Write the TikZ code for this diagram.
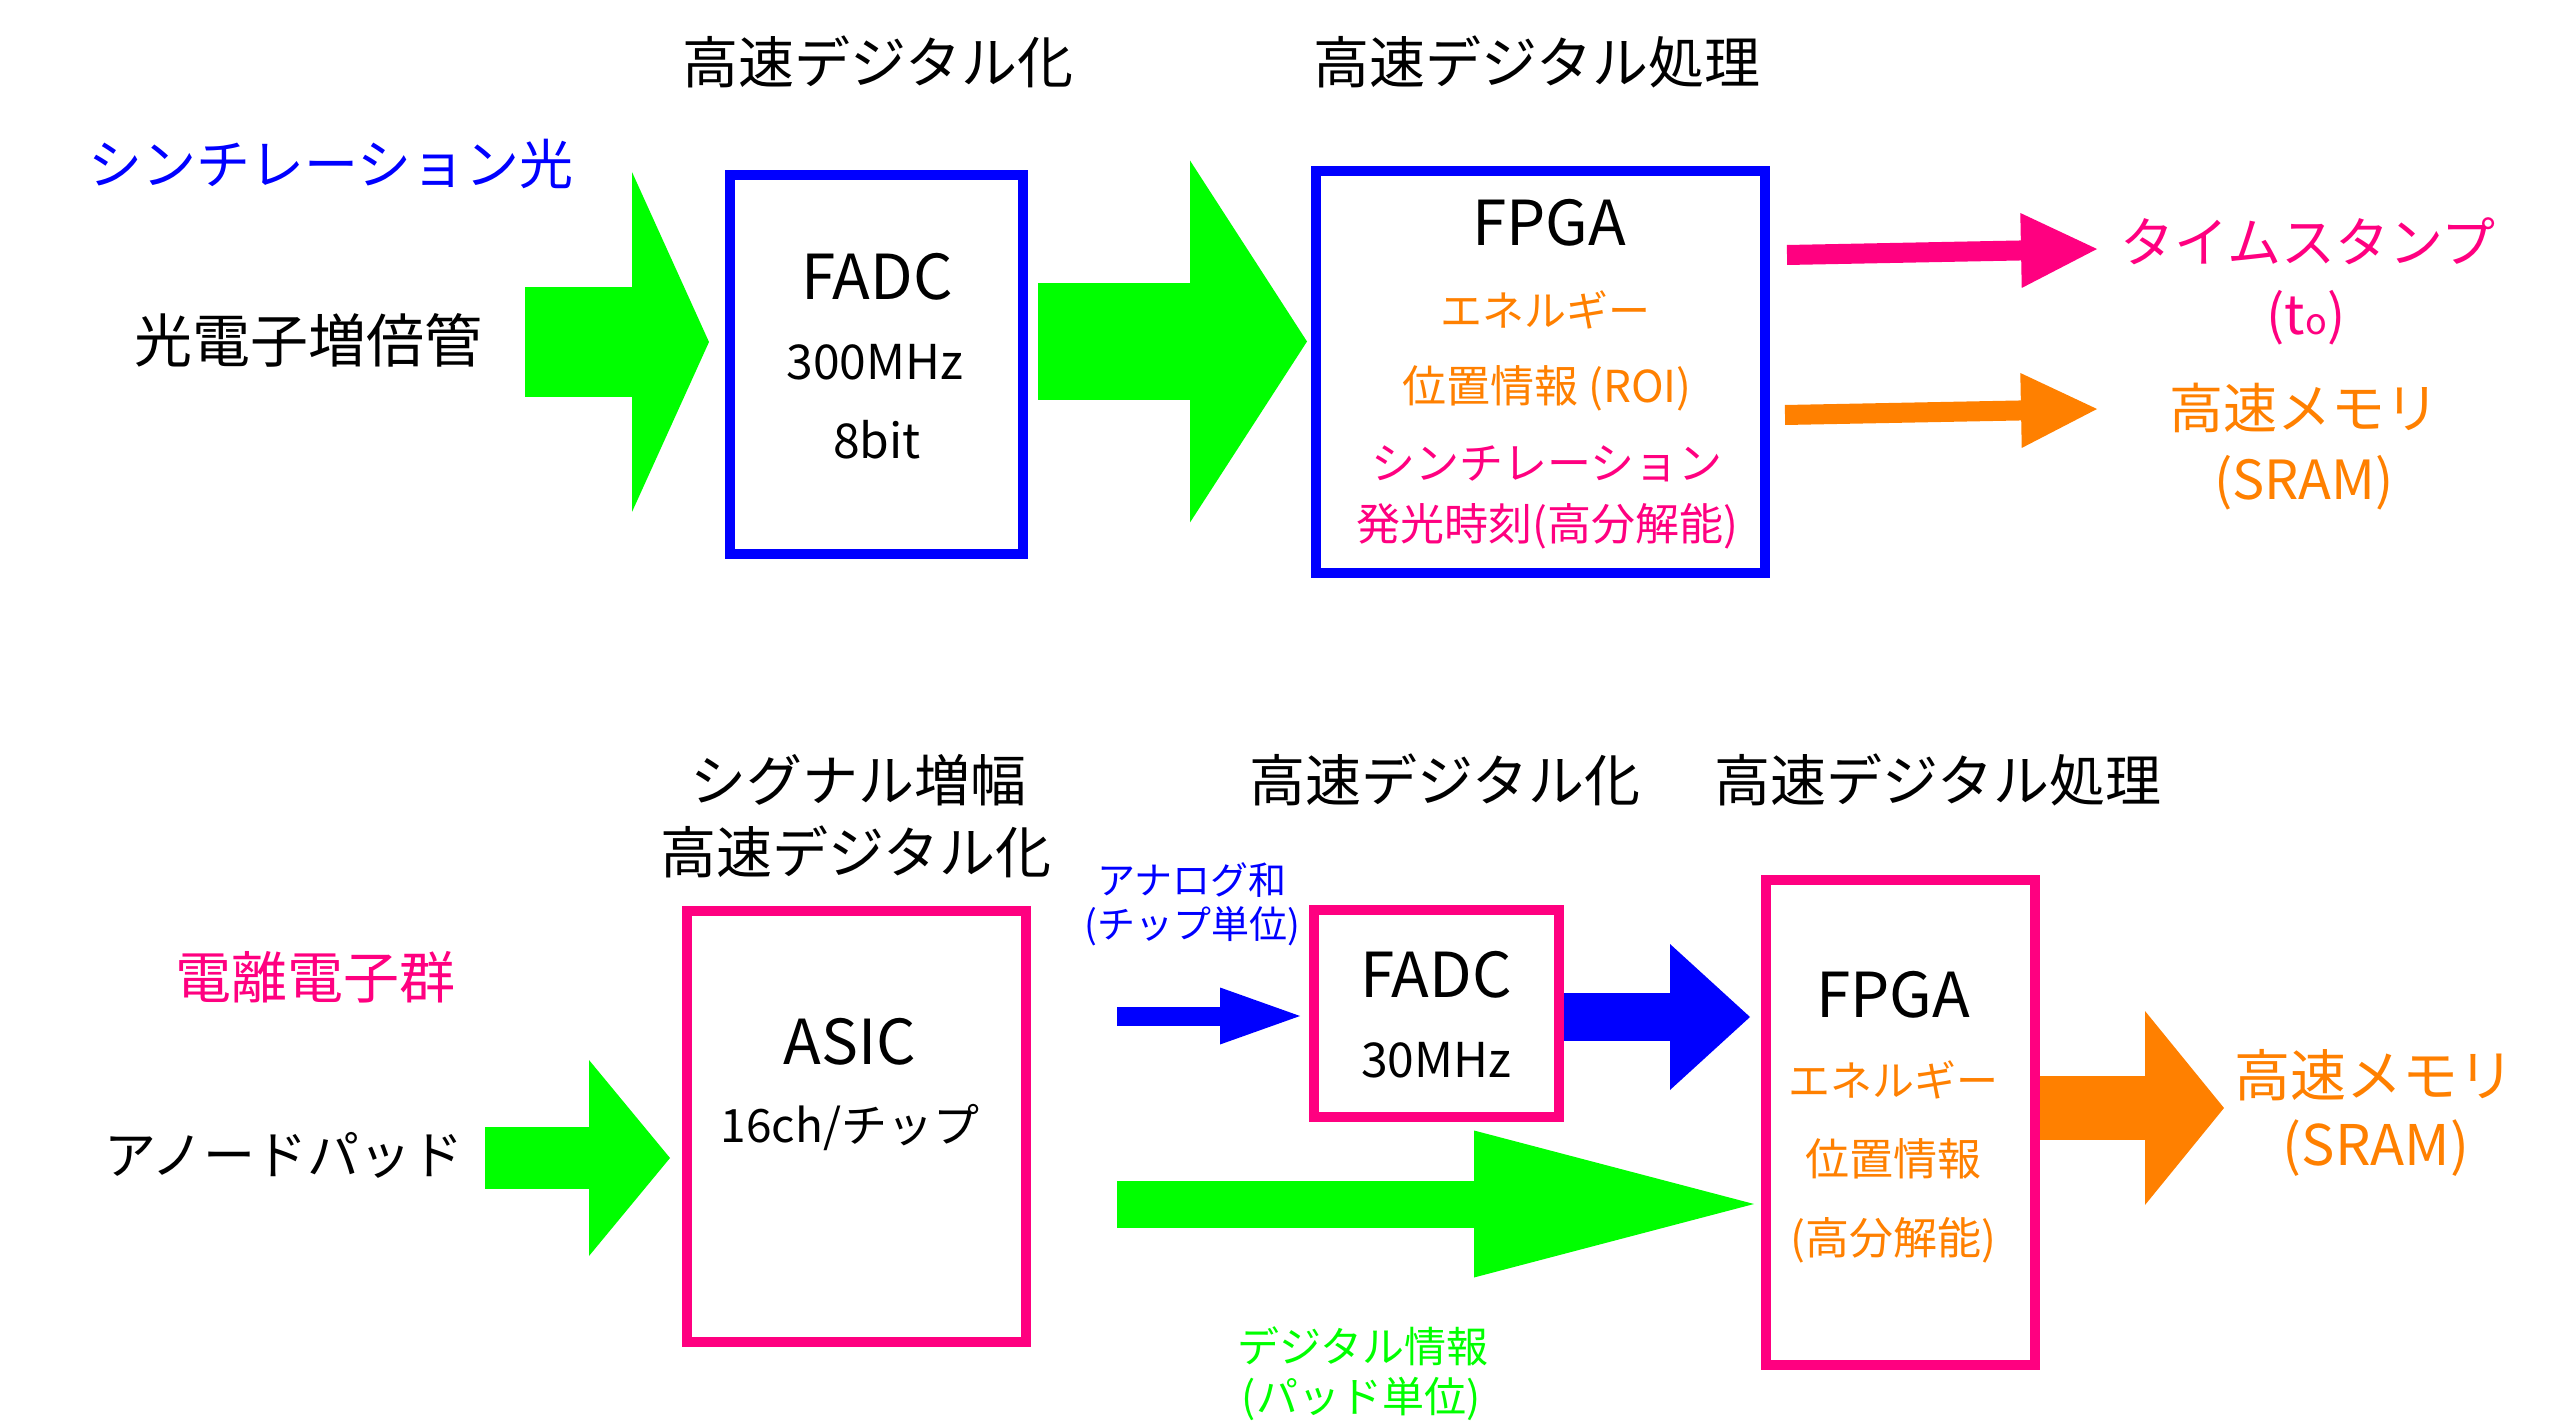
\documentclass[tikz,border=0pt]{standalone}
\usepackage{fontspec}
\setmainfont{Noto Sans CJK JP}
\usetikzlibrary{arrows.meta}
\definecolor{myblue}{RGB}{0,0,255}
\definecolor{mygreen}{RGB}{0,255,0}
\definecolor{mypink}{RGB}{255,0,128}
\definecolor{myorange}{RGB}{255,128,0}
\begin{document}
\begin{tikzpicture}[x=0.5pt,y=-0.5pt,
  txt/.style={inner sep=0pt,font=\fontsize{#1}{#1}\selectfont},
  box/.style n args={3}{draw=#1,line width=5pt,minimum width=#2,minimum height=#3,inner sep=0pt},
  blk/.style n args={4}{draw=#1,line width=#2,-{Triangle[length=#3,width=#4,line width=0pt]}}]
\useasboundingbox[fill=white] (0,0) rectangle (2572,1427);

% ---------- top row ----------
\node[txt=28] (h1) at (878,62) {高速デジタル化};
\node[txt=28] (h2) at (1537,62) {高速デジタル処理};
\node[txt=27,text=myblue] (scl) at (331,164) {シンチレーション光};
\node[txt=29] (pmt) at (308,340) {光電子増倍管};

\node[box={myblue}{146.5pt}{189.5pt}] (fadc1) at (876.5,364.5) {};
\node[txt=31] (fadc1a) at (877,277) {FADC};
\node[txt=24] (fadc1b) at (875,362) {300MHz};
\node[txt=24] (fadc1c) at (877,440) {8bit};

\node[box={myblue}{224.5pt}{201pt}] (fpga1) at (1540.5,372) {};
\node[txt=31] (fpga1a) at (1549,223) {FPGA};
\node[txt=21,text=myorange] (fpga1b) at (1545,310) {エネルギー};
\node[txt=22,text=myorange] (fpga1c) at (1547,388) {位置情報 (ROI)};
\node[txt=22,text=mypink] (fpga1d) at (1547,464) {シンチレーション};
\node[txt=22,text=mypink] (fpga1e) at (1547,526) {発光時刻(高分解能)};

\node[txt=27,text=mypink] (ts) at (2308,241) {タイムスタンプ};
\node[txt=27,text=mypink] (t0) at (2306,318) {(t{\fontsize{18}{18}\selectfont o})};
\node[txt=27,text=myorange] (mem1) at (2304,408) {高速メモリ};
\node[txt=27,text=myorange] (sram1) at (2304,483) {(SRAM)};

\coordinate (a1s) at (525,342);
\draw[blk={mygreen}{55pt}{38.5pt}{170pt},shorten >=8pt] (a1s) -- (a1s -| fadc1.west);
\coordinate (a2s) at (1038,341.5);
\draw[blk={mygreen}{58.5pt}{58.5pt}{181pt},shorten <=5pt,shorten >=2pt] (a2s -| fadc1.east) -- (a2s -| fpga1.west);
\coordinate (a3s) at (1787,255);
\coordinate (a3e) at (2097,249);
\draw[blk={mypink}{10pt}{38pt}{37.5pt}] (a3s) -- (a3e);
\coordinate (a4s) at (1785,415);
\coordinate (a4e) at (2097,409);
\draw[blk={myorange}{10pt}{38pt}{37.5pt}] (a4s) -- (a4e);

% ---------- bottom row ----------
\node[txt=28] (h3) at (858,780) {シグナル増幅};
\node[txt=28] (h4) at (856,852) {高速デジタル化};
\node[txt=28] (h5) at (1445,780) {高速デジタル化};
\node[txt=28] (h6) at (1938,780) {高速デジタル処理};
\node[txt=19,text=myblue] (an1) at (1192,880) {アナログ和};
\node[txt=19,text=myblue] (an2) at (1192,926) {(チップ単位)};
\node[txt=28,text=mypink] (ion) at (315,977) {電離電子群};
\node[txt=26] (pad) at (284,1155) {アノードパッド};

\node[box={mypink}{169.5pt}{215.5pt}] (asic) at (856.5,1126.5) {};
\node[txt=31] (asica) at (850,1042) {ASIC};
\node[txt=23] (asicb) at (850,1128) {16ch/チップ};

\node[box={mypink}{122.5pt}{103.5pt}] (fadc2) at (1436.5,1013.5) {};
\node[txt=31] (fadc2a) at (1436,975) {FADC};
\node[txt=24] (fadc2b) at (1436,1060) {30MHz};

\node[box={mypink}{134.5pt}{242.5pt}] (fpga2) at (1900.5,1122.5) {};
\node[txt=31] (fpga2a) at (1893,995) {FPGA};
\node[txt=21,text=myorange] (fpga2b) at (1893,1080) {エネルギー};
\node[txt=22,text=myorange] (fpga2c) at (1893,1159) {位置情報};
\node[txt=22,text=myorange] (fpga2d) at (1893,1240) {(高分解能)};

\node[txt=28,text=myorange] (mem2) at (2374,1075) {高速メモリ};
\node[txt=28,text=myorange] (sram2) at (2376,1148) {(SRAM)};
\node[txt=21,text=mygreen] (dg1) at (1363,1346) {デジタル情報};
\node[txt=21,text=mygreen] (dg2) at (1361,1399) {(パッド単位)};

\coordinate (b1s) at (485,1158);
\draw[blk={mygreen}{31pt}{40.5pt}{98pt},shorten >=6pt] (b1s) -- (b1s -| asic.west);
\coordinate (b2s) at (1117,1016);
\draw[blk={myblue}{9.5pt}{40pt}{28.5pt},shorten >=4.5pt] (b2s) -- (b2s -| fadc2.west);
\coordinate (b3s) at (1565,1017);
\draw[blk={myblue}{24pt}{40pt}{73pt},shorten >=5.5pt] (b3s -| fadc2.east) -- (b3s -| fpga2.west);
\coordinate (b4s) at (1117,1204);
\draw[blk={mygreen}{23.5pt}{140pt}{73.5pt},shorten >=3.5pt] (b4s) -- (b4s -| fpga2.west);
\coordinate (b5s) at (2042,1108);
\coordinate (b5e) at (2224,1108);
\draw[blk={myorange}{32pt}{39.5pt}{97pt}] (b5s -| fpga2.east) -- (b5e);
\end{tikzpicture}
\end{document}
